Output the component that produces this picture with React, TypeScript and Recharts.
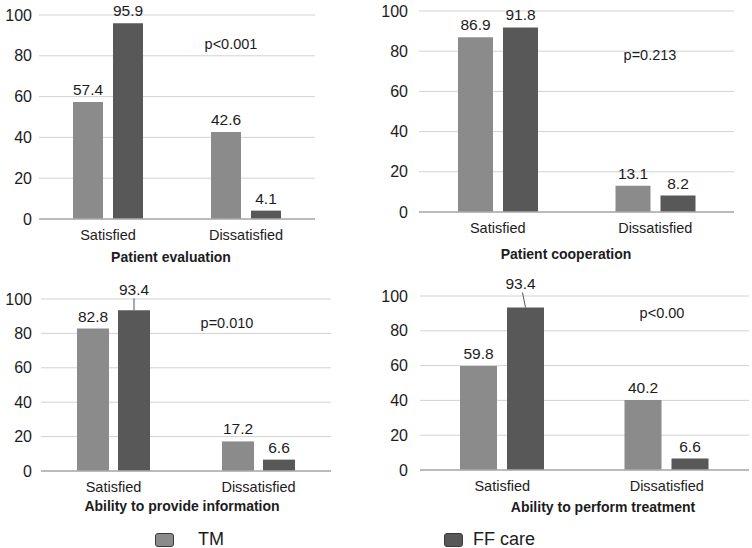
import React from "react";
import { Bar, BarChart, CartesianGrid, LabelList, XAxis, YAxis } from "recharts";

const categories = ["Satisfied", "Dissatisfied"];
const yTicks = [0, 20, 40, 60, 80, 100];

const evaluationTM = [57.4, 42.6];
const evaluationFF = [95.9, 4.1];
const cooperationTM = [86.9, 13.1];
const cooperationFF = [91.8, 8.2];
const informationTM = [82.8, 17.2];
const informationFF = [93.4, 6.6];
const treatmentTM = [59.8, 40.2];
const treatmentFF = [93.4, 6.6];

const titles = [
  "Patient evaluation",
  "Patient cooperation",
  "Ability to provide information",
  "Ability to perform treatment",
];
const pValues = ["p<0.001", "p=0.213", "p=0.010", "p<0.00"];
const seriesNames = ["TM", "FF care"];

const TM_COLOR = "#8b8b8b";
const FF_COLOR = "#585858";
const FONT = "'Liberation Sans', Arial, sans-serif";
const TEXT = "#1c1c1c";

type Leader = { dx: number; lift: number } | null;

interface PanelProps {
  tm: number[];
  ff: number[];
  title: string;
  pValue: string;
  box: { left: number; top: number };
  plot: { left: number; right: number; top: number; bottom: number };
  barSize: number;
  barGap: number;
  tickGap: number;
  titlePos: { x: number; y: number };
  pPos: { x: number; y: number };
  leader: Leader;
}

const W = 376;
const H = 274;

// value labels sit above each bar; the tall FF bar in the lower panels
// has its label pushed up with a short leader line, like the original
function valueLabel(leader: Leader, isFF: boolean) {
  return (props: any) => {
    const { x, y, width, value, index } = props;
    const cx = Number(x) + Number(width) / 2;
    const top = Number(y);
    if (isFF && leader && index === 0) {
      const base = top - leader.lift;
      return (
        <g>
          <line
            x1={cx + leader.dx * 0.6}
            y1={base + 3}
            x2={cx}
            y2={top}
            stroke="#555"
            strokeWidth={1}
          />
          <text
            x={cx + leader.dx}
            y={base}
            textAnchor="middle"
            fontSize={15.5}
            fontFamily={FONT}
            fill={TEXT}
          >
            {Number(value).toFixed(1)}
          </text>
        </g>
      );
    }
    return (
      <text
        x={cx}
        y={top - 7}
        textAnchor="middle"
        fontSize={15.5}
        fontFamily={FONT}
        fill={TEXT}
      >
        {Number(value).toFixed(1)}
      </text>
    );
  };
}

function Panel(p: PanelProps) {
  const data = categories.map((c, i) => ({ name: c, tm: p.tm[i], ff: p.ff[i] }));
  const xAxisHeight = 25;
  const yWidth = p.plot.left - p.box.left;
  const margin = {
    top: p.plot.top - p.box.top,
    right: p.box.left + W - p.plot.right,
    left: 0,
    bottom: p.box.top + H - p.plot.bottom - xAxisHeight,
  };
  return (
    <>
      <div style={{ position: "absolute", left: p.box.left, top: p.box.top }}>
        <BarChart
          width={W}
          height={H}
          data={data}
          margin={margin}
          barSize={p.barSize}
          barGap={p.barGap}
        >
          <CartesianGrid vertical={false} stroke="#d2d2d2" />
          <XAxis
            dataKey="name"
            height={xAxisHeight}
            tickLine={false}
            tickSize={0}
            tickMargin={11}
            axisLine={{ stroke: "#ababab", strokeWidth: 1.5 }}
            tick={{ fontSize: 14.5, fill: TEXT, fontFamily: FONT }}
          />
          <YAxis
            width={yWidth}
            domain={[0, 100]}
            ticks={yTicks}
            axisLine={false}
            tickLine={false}
            tickSize={0}
            tickMargin={p.tickGap}
            tick={{ fontSize: 16, fill: TEXT, fontFamily: FONT }}
          />
          <Bar dataKey="tm" fill={TM_COLOR} isAnimationActive={false}>
            <LabelList dataKey="tm" content={valueLabel(p.leader, false)} />
          </Bar>
          <Bar dataKey="ff" fill={FF_COLOR} isAnimationActive={false}>
            <LabelList dataKey="ff" content={valueLabel(p.leader, true)} />
          </Bar>
        </BarChart>
      </div>
      <div
        style={{
          position: "absolute",
          left: p.pPos.x - 60,
          width: 120,
          top: p.pPos.y - 9,
          lineHeight: "18px",
          textAlign: "center",
          fontSize: 14.5,
          fontFamily: FONT,
          color: TEXT,
        }}
      >
        {p.pValue}
      </div>
      <div
        style={{
          position: "absolute",
          left: p.titlePos.x - 150,
          width: 300,
          top: p.titlePos.y - 9,
          lineHeight: "18px",
          textAlign: "center",
          fontSize: 14,
          fontWeight: "bold",
          fontFamily: FONT,
          color: TEXT,
        }}
      >
        {p.title}
      </div>
    </>
  );
}

function LegendItem({ x, label, color, textX }: { x: number; label: string; color: string; textX: number }) {
  return (
    <>
      <div
        style={{
          position: "absolute",
          left: x,
          top: 533,
          width: 17,
          height: 12,
          background: color,
          border: "1px solid #3a3a3a",
          borderRadius: 3,
        }}
      />
      <div
        style={{
          position: "absolute",
          left: textX,
          top: 530,
          height: 18,
          lineHeight: "18px",
          fontSize: 18,
          fontFamily: FONT,
          color: TEXT,
          whiteSpace: "nowrap",
        }}
      >
        {label}
      </div>
    </>
  );
}

export default function App() {
  return (
    <div
      style={{
        position: "absolute",
        left: 0,
        top: 0,
        width: 752,
        height: 548,
        background: "#fff",
        overflow: "hidden",
      }}
    >
      <Panel
        tm={evaluationTM}
        ff={evaluationFF}
        title={titles[0]}
        pValue={pValues[0]}
        box={{ left: 0, top: 0 }}
        plot={{ left: 39, right: 315, top: 15, bottom: 219 }}
        barSize={30}
        barGap={10}
        tickGap={7}
        titlePos={{ x: 171, y: 257 }}
        pPos={{ x: 231, y: 44 }}
        leader={null}
      />
      <Panel
        tm={cooperationTM}
        ff={cooperationFF}
        title={titles[1]}
        pValue={pValues[1]}
        box={{ left: 376, top: 0 }}
        plot={{ left: 419, right: 734, top: 11, bottom: 212 }}
        barSize={35}
        barGap={10}
        tickGap={11}
        titlePos={{ x: 566, y: 254 }}
        pPos={{ x: 650, y: 55 }}
        leader={null}
      />
      <Panel
        tm={informationTM}
        ff={informationFF}
        title={titles[2]}
        pValue={pValues[2]}
        box={{ left: 0, top: 274 }}
        plot={{ left: 41, right: 331, top: 299, bottom: 471 }}
        barSize={32}
        barGap={9}
        tickGap={9}
        titlePos={{ x: 182, y: 506 }}
        pPos={{ x: 227, y: 323 }}
        leader={{ dx: 0, lift: 15 }}
      />
      <Panel
        tm={treatmentTM}
        ff={treatmentFF}
        title={titles[3]}
        pValue={pValues[3]}
        box={{ left: 376, top: 274 }}
        plot={{ left: 420, right: 749, top: 296, bottom: 470 }}
        barSize={37}
        barGap={10}
        tickGap={12}
        titlePos={{ x: 603, y: 507 }}
        pPos={{ x: 662, y: 313 }}
        leader={{ dx: -5, lift: 18 }}
      />
      <LegendItem x={155} textX={198} label={seriesNames[0]} color={TM_COLOR} />
      <LegendItem x={444} textX={473} label={seriesNames[1]} color={FF_COLOR} />
    </div>
  );
}
